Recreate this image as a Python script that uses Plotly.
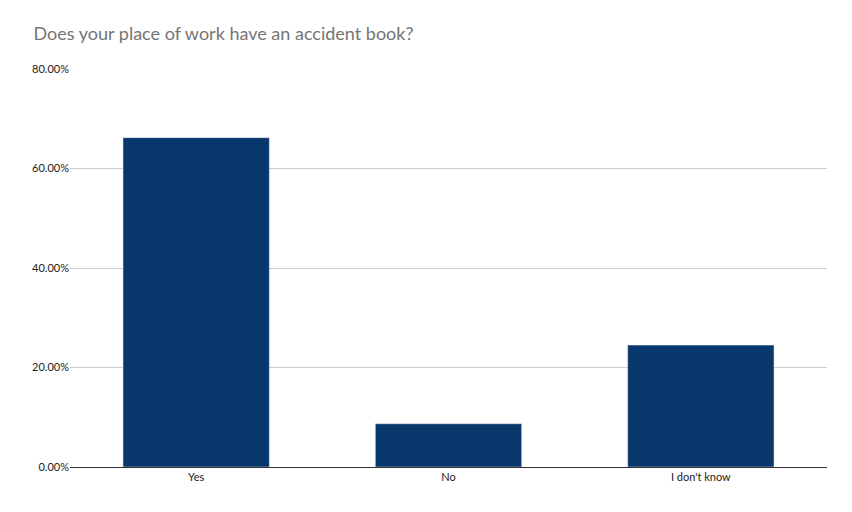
import plotly.graph_objects as go

categories = ["Yes", "No", "I don't know"]
values = [0.662, 0.087, 0.245]

fig = go.Figure(go.Bar(x=categories, y=values, marker_color="#08376b", width=0.58))
fig.update_layout(
    width=852, height=512,
    paper_bgcolor="white", plot_bgcolor="white",
    margin=dict(l=62, r=33, t=60, b=53),
    title=dict(text="Does your place of work have an accident book?", x=0.03, y=0.95,
               xanchor="left", yanchor="middle",
               font=dict(family="Lato, Roboto, sans-serif", size=18, color="#757575")),
    font=dict(family="Lato, Roboto, sans-serif", size=11, color="#222"),
    showlegend=False,
)
fig.update_yaxes(range=[0, 0.802], tickvals=[0, 0.2, 0.4, 0.6, 0.8], tickformat=".2%",
                 gridcolor="#cccccc", zeroline=False, showline=False, ticks="")
fig.update_xaxes(showline=True, linecolor="#333", ticks="")
fig.write_html("out.html")
